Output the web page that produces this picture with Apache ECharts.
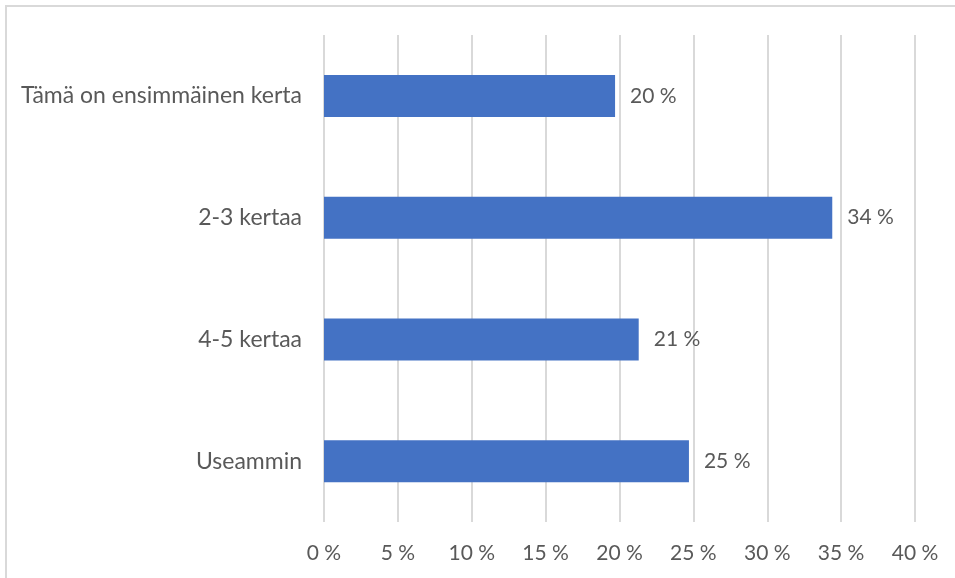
<!DOCTYPE html>
<html>
<head>
<meta charset="utf-8">
<script src="https://cdn.jsdelivr.net/npm/echarts@6/dist/echarts.min.js"></script>
<style>
  html, body { margin: 0; padding: 0; background: #fff; overflow: hidden; }
  #chart { width: 955px; height: 578px; }
  #frame {
    position: absolute; left: 5px; top: 5px; width: 980px; height: 600px;
    border-top: 2px solid #d9d9d9; border-left: 2px solid #d9d9d9;
    pointer-events: none;
  }
</style>
</head>
<body>
<div id="chart"></div>
<div id="frame"></div>
<script>
const categories = ['Tämä on ensimmäinen kerta', '2-3 kertaa', '4-5 kertaa', 'Useammin']
const values = [19.7, 34.4, 21.3, 24.7]
const labels = ['20 %', '34 %', '21 %', '25 %']
const xTicks = [0, 5, 10, 15, 20, 25, 30, 35, 40]

const textColor = '#595959'
const fontFamily = 'Lato, "Liberation Sans", sans-serif'

const chart = echarts.init(document.getElementById('chart'))
chart.setOption({
  animation: false,
  grid: { left: 324, right: 40, top: 35, bottom: 56, containLabel: false },
  xAxis: {
    type: 'value',
    min: xTicks[0],
    max: xTicks[xTicks.length - 1],
    interval: 5,
    axisLine: { show: false },
    axisTick: { show: false },
    axisLabel: {
      color: textColor,
      fontFamily,
      fontSize: 21,
      margin: 21,
      formatter: v => v + ' %',
    },
    splitLine: { show: true, lineStyle: { color: '#d9d9d9', width: 2 } },
  },
  yAxis: {
    type: 'category',
    inverse: true,
    data: categories,
    axisLine: { show: false },
    axisTick: { show: false },
    axisLabel: { color: textColor, fontFamily, fontSize: 23, margin: 22 },
  },
  series: [{
    type: 'bar',
    data: values,
    barWidth: 42,
    itemStyle: { color: '#4472C4' },
    label: {
      show: true,
      position: 'right',
      distance: 15,
      color: textColor,
      fontFamily,
      fontSize: 21,
      formatter: p => labels[p.dataIndex],
    },
  }],
})
</script>
</body>
</html>
